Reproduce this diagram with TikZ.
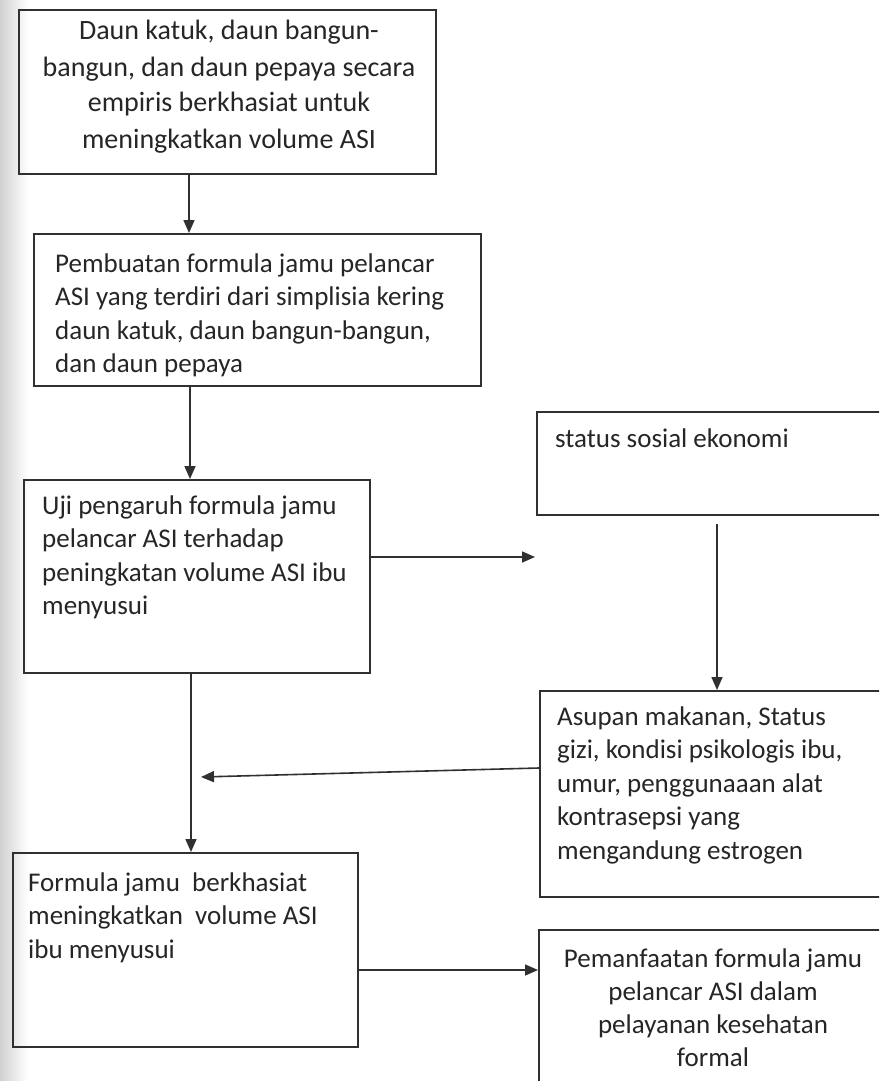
\documentclass[tikz,border=0pt]{standalone}
\usepackage{fontspec}
\setmainfont{Carlito}
\usetikzlibrary{arrows.meta,calc}
\definecolor{inkc}{HTML}{262626}
\definecolor{linec}{HTML}{303030}
\newcommand{\mylines}[2]{\begin{tabular}[t]{@{}#1@{}}#2\end{tabular}}
\tikzset{
  box/.style={draw=linec, line width=2.2pt, rectangle, inner sep=0pt, anchor=north west},
  txt/.style={inner sep=0pt, text=inkc, font=\fontsize{27}{33.5}\selectfont},
  bigtxt/.style={inner sep=0pt, text=inkc, font=\fontsize{28}{36}\selectfont},
  arr/.style={draw=linec, line width=1.6pt, -{Triangle[length=13pt,width=11pt]}}
}
\begin{document}
\begin{tikzpicture}[x=1pt,y=1pt]
\clip (0,0) rectangle (879,-1081);
\fill[white] (0,0) rectangle (879,-1081);
\shade[left color=black!18, right color=white] (0,0) rectangle (28,-1081);

% boxes
\node[box, minimum width=417, minimum height=164] (b1) at (18,-9) {};
\node[box, minimum width=447, minimum height=152] (b2) at (33,-233) {};
\node[box, minimum width=346, minimum height=193] (b3) at (23,-479) {};
\node[box, minimum width=360, minimum height=103] (st) at (536,-411) {};
\node[box, minimum width=360, minimum height=206] (b4) at (539,-690) {};
\node[box, minimum width=345, minimum height=194] (b5) at (12,-852) {};
\node[box, minimum width=350, minimum height=180] (b6) at (538,-929) {};

% texts
\node[bigtxt, anchor=base] (t1) at (229,-40) {\mylines{c}{Daun katuk, daun bangun-\\bangun, dan daun pepaya secara\\empiris berkhasiat untuk\\meningkatkan volume ASI}};
\node[txt, anchor=base west] (t2) at (55,-272) {\mylines{l}{Pembuatan formula jamu pelancar\\ASI yang terdiri dari simplisia kering\\daun katuk, daun bangun-bangun,\\dan daun pepaya}};
\node[txt, anchor=base west] (t3) at (42,-514) {\mylines{l}{Uji pengaruh formula jamu\\pelancar ASI terhadap\\peningkatan volume ASI ibu\\menyusui}};
\node[txt, anchor=base west] (tst) at (555,-447) {status sosial ekonomi};
\node[txt, anchor=base west] (t4) at (557,-725) {\mylines{l}{Asupan makanan, Status\\gizi, kondisi psikologis ibu,\\umur, penggunaaan alat\\kontrasepsi yang\\mengandung estrogen}};
\node[txt, anchor=base west] (t5) at (28,-891) {\mylines{l}{Formula jamu\ \ berkhasiat\\meningkatkan\ \ volume ASI\\ibu menyusui}};
\node[txt, anchor=base, font=\fontsize{27}{33}\selectfont] (t6) at (713,-967) {\mylines{c}{Pemanfaatan formula jamu\\pelancar ASI dalam\\pelayanan kesehatan\\formal}};

% free arrow ends
\coordinate (e3) at (535,-557);
\coordinate (e4) at (201,-777);

% connectors
\draw[arr] ([xshift=171]b1.south west) -- ([xshift=171]b1.south west |- b2.north);
\draw[arr] ([xshift=157]b2.south west) -- ([xshift=157]b2.south west |- b3.north);
\draw[arr] ([yshift=-78]b3.north east) -- (e3);
\draw[arr] ([xshift=181,yshift=-8]st.south west) -- ([xshift=181]st.south west |- b4.north);
\draw[arr] ([yshift=-78]b4.north west) -- (e4);
\draw[arr] ([xshift=168]b3.south west) -- ([xshift=168]b3.south west |- b5.north);
\draw[arr] ([yshift=-118]b5.north east) -- ([yshift=-41]b6.north west);
\end{tikzpicture}
\end{document}
